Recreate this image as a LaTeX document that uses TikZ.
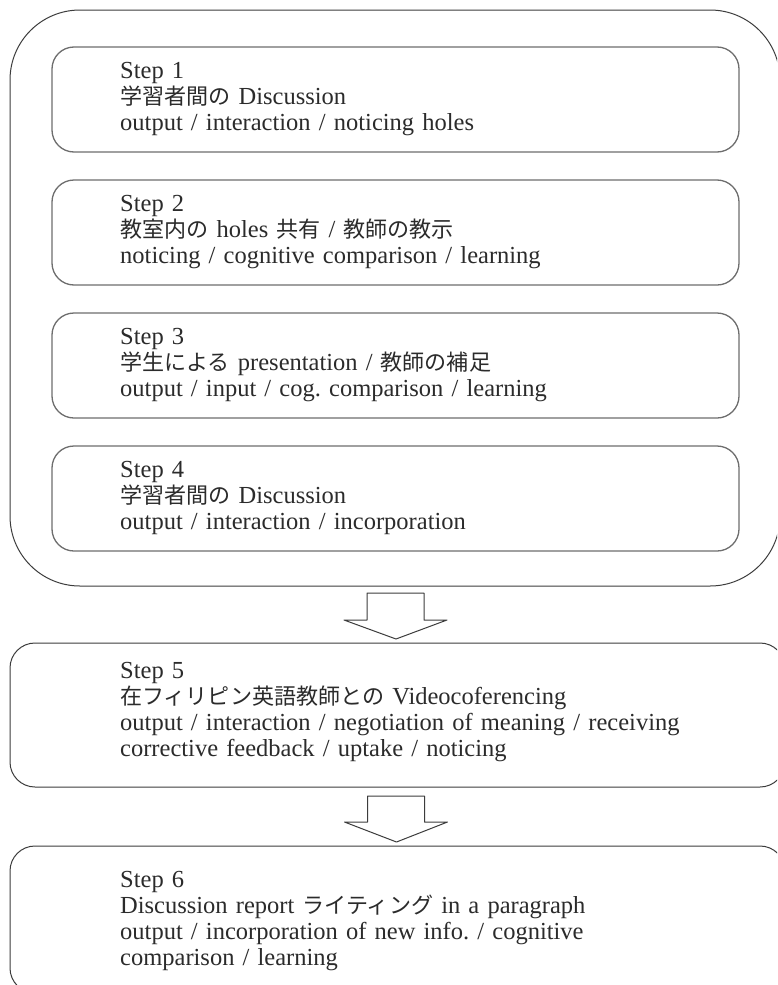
\documentclass[tikz,border=0pt]{standalone}
\usepackage{fontspec}
\setmainfont{Liberation Serif}
\newfontfamily\jpfont{Noto Sans CJK JP}[Scale=0.9]
\usetikzlibrary{calc}
\definecolor{flowInk}{HTML}{2B2B2B}
\definecolor{flowLine}{HTML}{3C3C3C}
\definecolor{flowGrey}{HTML}{6E6E6E}

\begin{document}
\begin{tikzpicture}[x=1pt,y=-1pt,line cap=round,line join=round]
\path[fill=white,use as bounding box] (0,0) rectangle (777,985);
\clip (0,0) rectangle (777,985);
\tikzset{outerbox/.style={draw=flowLine,line width=1pt,rounded corners=70pt,minimum width=770pt,minimum height=576pt,anchor=north west,inner sep=0pt,outer sep=0pt},stepbox/.style={draw=flowGrey,line width=1.3pt,rounded corners=22pt,minimum width=687pt,minimum height=105pt,anchor=north west,inner sep=0pt,outer sep=0pt},widebox/.style={draw=flowLine,line width=1pt,rounded corners=25pt,minimum width=775pt,minimum height=144pt,anchor=north west,inner sep=0pt,outer sep=0pt},steptext/.style={anchor=base west,inner sep=0pt,text=flowInk,text width=650pt,align=left,font={\fontsize{24.5}{26}\selectfont\frenchspacing}},hollow/.style={draw=flowLine,line width=1pt,fill=white}}
\node[outerbox] (outer) at (10,10) {};
\node[stepbox] (s1box) at (52,47) {}; \node[stepbox] (s2box) at (52,180) {};
\node[stepbox] (s3box) at (52,313) {}; \node[stepbox] (s4box) at (52,446) {};
\node[widebox] (s5box) at (10,643) {}; \node[widebox,minimum height=147pt] (s6box) at (10,846) {};
\node[steptext] (s1text) at (120,78) {Step 1\\{\jpfont 学習者間の} Discussion\\output / interaction / noticing holes};
\node[steptext] (s2text) at (120,211) {Step 2\\{\jpfont 教室内の} holes {\jpfont 共有} / {\jpfont 教師の教示}\\noticing / cognitive comparison / learning};
\node[steptext] (s3text) at (120,344) {Step 3\\{\jpfont 学生による} presentation / {\jpfont 教師の補足}\\output / input / cog. comparison / learning};
\node[steptext] (s4text) at (120,477) {Step 4\\{\jpfont 学習者間の} Discussion\\output / interaction / incorporation};
\node[steptext] (s5text) at (120,678) {Step 5\\{\jpfont 在フィリピン英語教師との} Videocoferencing\\output / interaction / negotiation of meaning / receiving\\corrective feedback / uptake / noticing};
\node[steptext] (s6text) at (120,887) {Step 6\\Discussion report {\jpfont ライティング} in a paragraph\\output / incorporation of new info. / cognitive\\comparison / learning};
\draw[hollow] ($(outer.south)+(-28,7)$) -- ($(outer.south)+(29,7)$) -- ($(outer.south)+(29,34)$) -- ($(outer.south)+(52,34)$) -- ($(outer.south |- s5box.north)+(1,-4)$) -- ($(outer.south)+(-51,34)$) -- ($(outer.south)+(-28,34)$) -- cycle;
\draw[hollow] ($(s5box.south)+(-30,9)$) -- ($(s5box.south)+(27,9)$) -- ($(s5box.south)+(27,35)$) -- ($(s5box.south)+(50,35)$) -- ($(s5box.south |- s6box.north)+(-1,-4)$) -- ($(s5box.south)+(-53,35)$) -- ($(s5box.south)+(-30,35)$) -- cycle;
\end{tikzpicture}
\end{document}
